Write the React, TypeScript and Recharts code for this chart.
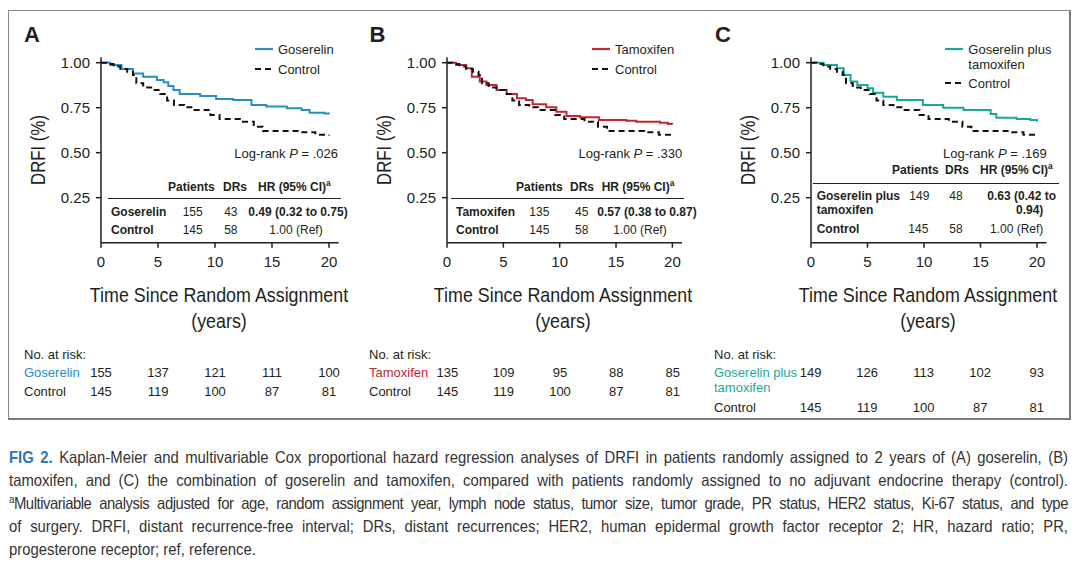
import React from 'react';
import { LineChart, Line, XAxis, YAxis } from 'recharts';

// Kaplan-Meier steps: [years, DRFI]
const controlKM = [
  [0, 1], [0.5, 0.993], [1.1, 0.979], [1.7, 0.965], [2.3, 0.95], [2.8, 0.932], [3.1, 0.886],
  [3.7, 0.862], [4.4, 0.848], [5.2, 0.826], [5.8, 0.79], [6.4, 0.765], [7.3, 0.752], [8.1, 0.737],
  [9.6, 0.71], [10.4, 0.687], [12.2, 0.672], [13.4, 0.644], [14.2, 0.62], [17.5, 0.613],
  [18.8, 0.6], [20, 0.595],
];
const goserelinKM = [
  [0, 1], [0.8, 0.987], [1.8, 0.965], [2.8, 0.94], [3.7, 0.922], [4.9, 0.904], [5.5, 0.891],
  [5.9, 0.87], [6.35, 0.848], [6.9, 0.826], [8.7, 0.815], [10.1, 0.798], [11.6, 0.793],
  [13.2, 0.765], [14.5, 0.756], [16.3, 0.747], [17.6, 0.737], [18.3, 0.722], [19.6, 0.718], [20, 0.713],
];
const tamoxifenKM = [
  [0, 1], [0.8, 0.987], [1.7, 0.969], [2.2, 0.922], [2.9, 0.895], [3.5, 0.876], [4.4, 0.848],
  [5.3, 0.826], [6.2, 0.802], [7.0, 0.793], [7.6, 0.769], [8.8, 0.752], [9.7, 0.728], [10.6, 0.704],
  [11.8, 0.697], [13.5, 0.682], [15.9, 0.678], [16.8, 0.672], [18.9, 0.667], [19.6, 0.66], [20, 0.658],
];
const comboKM = [
  [0, 1], [1.1, 0.987], [2.3, 0.969], [2.9, 0.932], [3.5, 0.895], [4.1, 0.876], [5.0, 0.858],
  [5.5, 0.833], [6.4, 0.811], [7.6, 0.793], [9.9, 0.765], [11.7, 0.75], [13.5, 0.737],
  [15.9, 0.715], [16.4, 0.694], [18.2, 0.687], [19.4, 0.682], [20, 0.672],
];

const xTicks = [0, 5, 10, 15, 20];
const yTicks = [0.25, 0.5, 0.75, 1.0];

const riskGoserelin = [155, 137, 121, 111, 100];
const riskTamoxifen = [135, 109, 95, 88, 85];
const riskCombo = [149, 126, 113, 102, 93];
const riskControl = [145, 119, 100, 87, 81];

const INK = '#231f20';
const BLUE = '#2a8dc5';
const RED = '#c1272d';
const TEAL = '#1aa89b';
const SANS = "'Liberation Sans', Arial, Helvetica, sans-serif";

const toRows = (km: number[][]) => km.map(([t, s]) => ({ t, s }));

type TxtProps = {
  x: number; y: number; size?: number; anchor?: 'start' | 'middle' | 'end';
  bold?: boolean; color?: string; squeeze?: number; children: React.ReactNode;
};

function Txt({ x, y, size = 13, anchor = 'start', bold, color = INK, squeeze, children }: TxtProps) {
  const style: React.CSSProperties = {
    position: 'absolute', top: y - size / 2, lineHeight: `${size}px`, fontSize: size,
    fontFamily: SANS, fontWeight: bold ? 700 : 400, color, whiteSpace: 'nowrap',
  };
  if (anchor === 'end') style.right = 1080 - x;
  else style.left = x;
  const parts: string[] = [];
  if (anchor === 'middle') parts.push('translateX(-50%)');
  if (squeeze) parts.push(`scaleX(${squeeze})`);
  if (parts.length) style.transform = parts.join(' ');
  return <div style={style}>{children}</div>;
}

function LegendKey({ x, y, color, dashed }: { x: number; y: number; color: string; dashed?: boolean }) {
  return (
    <svg style={{ position: 'absolute', left: x, top: y - 3 }} width={19} height={6}>
      <line x1={0} y1={3} x2={18} y2={3} stroke={color} strokeWidth={2.2} strokeDasharray={dashed ? '6 4' : undefined} />
    </svg>
  );
}

function Rule({ x1, x2, y }: { x1: number; x2: number; y: number }) {
  return <div style={{ position: 'absolute', left: x1, top: y, width: x2 - x1, borderTop: `1px solid ${INK}` }} />;
}

const Sup = () => <sup style={{ fontSize: '0.7em', lineHeight: 0 }}>a</sup>;

function KMPanel({ axisX, ppy, treat, color }: { axisX: number; ppy: number; treat: number[][]; color: string }) {
  const yAxisW = 81;
  const plotW = 20.85 * ppy;
  return (
    <div style={{ position: 'absolute', left: axisX - yAxisW, top: 40 }}>
      <LineChart width={yAxisW + plotW + 10} height={232.7} margin={{ top: 17.3, right: 10, bottom: 0, left: 0 }}>
        <XAxis type="number" dataKey="t" domain={[0, 20.85]} ticks={xTicks} allowDataOverflow
          height={30} tickSize={5} tickMargin={9} stroke={INK} strokeWidth={1.5}
          tick={{ fill: INK, fontSize: 15, fontFamily: SANS }} />
        <YAxis type="number" dataKey="s" domain={[0, 1.03]} ticks={yTicks} allowDataOverflow
          width={yAxisW} tickSize={5} tickMargin={6} stroke={INK} strokeWidth={1.5}
          tickFormatter={(v: number) => v.toFixed(2)}
          tick={{ fill: INK, fontSize: 15, fontFamily: SANS }} />
        <Line data={toRows(treat)} dataKey="s" type="stepAfter" stroke={color} strokeWidth={2}
          dot={false} isAnimationActive={false} />
        <Line data={toRows(controlKM)} dataKey="s" type="stepAfter" stroke="#111" strokeWidth={2}
          strokeDasharray="6 4" dot={false} isAnimationActive={false} />
      </LineChart>
    </div>
  );
}

function AxisTitles({ cx }: { cx: number }) {
  return (
    <>
      <Txt x={cx} y={294} size={21} anchor="middle" squeeze={0.85}>Time Since Random Assignment</Txt>
      <Txt x={cx} y={320} size={21} anchor="middle" squeeze={0.85}>(years)</Txt>
    </>
  );
}

function YTitle({ x, y }: { x: number; y: number }) {
  return (
    <div style={{
      position: 'absolute', left: x, top: y, transform: 'translate(-50%, -50%) rotate(-90deg) scaleX(0.8)',
      fontFamily: SANS, fontSize: 21, color: INK, whiteSpace: 'nowrap', lineHeight: '21px',
    }}>DRFI (%)</div>
  );
}

function RiskRow({ axisX, ppy, y, values }: { axisX: number; ppy: number; y: number; values: number[] }) {
  return (
    <>
      {values.map((v, i) => (
        <Txt key={i} x={axisX + xTicks[i] * ppy} y={y} anchor="middle">{v}</Txt>
      ))}
    </>
  );
}

const A = { axisX: 101, ppy: 11.4 };
const B = { axisX: 447.3, ppy: 11.27 };
const C = { axisX: 810.7, ppy: 11.3 };

const CAP_SCALE = 0.9;
const captionLine: React.CSSProperties = {
  position: 'absolute', left: 9, width: 1059 / CAP_SCALE, fontFamily: SANS, fontSize: 16.5, color: '#333',
  lineHeight: '20px', textAlign: 'justify', textAlignLast: 'justify',
  transform: `scaleX(${CAP_SCALE})`, transformOrigin: 'left top',
};

export default function App() {
  return (
    <div style={{ position: 'absolute', left: 0, top: 0, width: 1080, height: 569, background: '#fff', overflow: 'hidden' }}>
      <div style={{
        position: 'absolute', left: 8, top: 10, width: 1060, height: 407,
        borderLeft: '1.5px solid #8a8a8a', borderTop: '1.5px solid #8a8a8a',
        borderRight: '2.5px solid #7a7a7a', borderBottom: '2.5px solid #7a7a7a',
      }} />

      {/* Panel A */}
      <Txt x={24} y={35} size={22} bold>A</Txt>
      <KMPanel axisX={A.axisX} ppy={A.ppy} treat={goserelinKM} color={BLUE} />
      <YTitle x={37} y={150} />
      <AxisTitles cx={219} />
      <LegendKey x={255} y={49.3} color={BLUE} />
      <Txt x={278} y={49.3}>Goserelin</Txt>
      <LegendKey x={255} y={69.3} color="#111" dashed />
      <Txt x={278} y={69.3}>Control</Txt>
      <Txt x={338} y={153.3} anchor="end">Log-rank <i>P</i> = .026</Txt>
      <Txt x={168} y={186.7} size={12} bold>Patients</Txt>
      <Txt x={223} y={186.7} size={12} bold>DRs</Txt>
      <Txt x={258} y={186.7} size={12} bold>HR (95% CI)<Sup /></Txt>
      <Rule x1={108} x2={341} y={197.5} />
      <Txt x={111} y={211.7} size={12} bold>Goserelin</Txt>
      <Txt x={182.7} y={211.7} size={12}>155</Txt>
      <Txt x={237.5} y={211.7} size={12} anchor="end">43</Txt>
      <Txt x={248.3} y={211.7} size={12} bold>0.49 (0.32 to 0.75)</Txt>
      <Txt x={111} y={230} size={12} bold>Control</Txt>
      <Txt x={182.7} y={230} size={12}>145</Txt>
      <Txt x={237.5} y={230} size={12} anchor="end">58</Txt>
      <Txt x={269.3} y={230} size={12}>1.00 (Ref)</Txt>

      {/* Panel B */}
      <Txt x={369.5} y={35} size={22} bold>B</Txt>
      <KMPanel axisX={B.axisX} ppy={B.ppy} treat={tamoxifenKM} color={RED} />
      <YTitle x={383} y={150} />
      <AxisTitles cx={563} />
      <LegendKey x={591.7} y={49.3} color={RED} />
      <Txt x={615} y={49.3}>Tamoxifen</Txt>
      <LegendKey x={591.7} y={69.3} color="#111" dashed />
      <Txt x={615} y={69.3}>Control</Txt>
      <Txt x={682.3} y={153.3} anchor="end">Log-rank <i>P</i> = .330</Txt>
      <Txt x={516} y={186.7} size={12} bold>Patients</Txt>
      <Txt x={570} y={186.7} size={12} bold>DRs</Txt>
      <Txt x={601.7} y={186.7} size={12} bold>HR (95% CI)<Sup /></Txt>
      <Rule x1={451} x2={684} y={197.5} />
      <Txt x={456} y={211.7} size={12} bold>Tamoxifen</Txt>
      <Txt x={529.3} y={211.7} size={12}>135</Txt>
      <Txt x={588.3} y={211.7} size={12} anchor="end">45</Txt>
      <Txt x={597.3} y={211.7} size={12} bold>0.57 (0.38 to 0.87)</Txt>
      <Txt x={456} y={230} size={12} bold>Control</Txt>
      <Txt x={529.3} y={230} size={12}>145</Txt>
      <Txt x={588.3} y={230} size={12} anchor="end">58</Txt>
      <Txt x={613.3} y={230} size={12}>1.00 (Ref)</Txt>

      {/* Panel C */}
      <Txt x={715} y={35} size={22} bold>C</Txt>
      <KMPanel axisX={C.axisX} ppy={C.ppy} treat={comboKM} color={TEAL} />
      <YTitle x={747} y={150} />
      <AxisTitles cx={928} />
      <LegendKey x={945} y={49.3} color={TEAL} />
      <Txt x={968.3} y={49.3}>Goserelin plus</Txt>
      <Txt x={968.3} y={64}>tamoxifen</Txt>
      <LegendKey x={945} y={83.3} color="#111" dashed />
      <Txt x={968.3} y={83.3}>Control</Txt>
      <Txt x={1046.7} y={153.3} anchor="end">Log-rank <i>P</i> = .169</Txt>
      <Txt x={892} y={170} size={12} bold>Patients</Txt>
      <Txt x={945} y={170} size={12} bold>DRs</Txt>
      <Txt x={980} y={170} size={12} bold>HR (95% CI)<Sup /></Txt>
      <Rule x1={813} x2={1059} y={183} />
      <Txt x={816.7} y={195.7} size={12} bold>Goserelin plus</Txt>
      <Txt x={816.7} y={210} size={12} bold>tamoxifen</Txt>
      <Txt x={909.3} y={195.7} size={12}>149</Txt>
      <Txt x={962.7} y={195.7} size={12} anchor="end">48</Txt>
      <Txt x={1056} y={195.7} size={12} bold anchor="end">0.63 (0.42 to</Txt>
      <Txt x={1043.3} y={210} size={12} bold anchor="end">0.94)</Txt>
      <Txt x={816.7} y={229.3} size={12} bold>Control</Txt>
      <Txt x={908.3} y={229.3} size={12}>145</Txt>
      <Txt x={962.7} y={229.3} size={12} anchor="end">58</Txt>
      <Txt x={1043.3} y={229.3} size={12} anchor="end">1.00 (Ref)</Txt>

      {/* Numbers at risk */}
      <Txt x={24} y={354}>No. at risk:</Txt>
      <Txt x={24} y={372.3} color={BLUE}>Goserelin</Txt>
      <Txt x={24} y={391.7}>Control</Txt>
      <RiskRow {...A} y={372.3} values={riskGoserelin} />
      <RiskRow {...A} y={391.7} values={riskControl} />

      <Txt x={369} y={354}>No. at risk:</Txt>
      <Txt x={369} y={372.3} color={RED}>Tamoxifen</Txt>
      <Txt x={369} y={391.7}>Control</Txt>
      <RiskRow {...B} y={372.3} values={riskTamoxifen} />
      <RiskRow {...B} y={391.7} values={riskControl} />

      <Txt x={714} y={354}>No. at risk:</Txt>
      <Txt x={714} y={372.3} color={TEAL}>Goserelin plus</Txt>
      <Txt x={714} y={387} color={TEAL}>tamoxifen</Txt>
      <Txt x={714} y={407}>Control</Txt>
      <RiskRow {...C} y={372.3} values={riskCombo} />
      <RiskRow {...C} y={407} values={riskControl} />

      {/* Caption */}
      <div style={{ ...captionLine, top: 447 }}>
        <b style={{ color: '#2a7ab8' }}>FIG 2.</b> Kaplan-Meier and multivariable Cox proportional hazard regression analyses of DRFI in patients randomly assigned to 2 years of (A) goserelin, (B)
      </div>
      <div style={{ ...captionLine, top: 470 }}>
        tamoxifen, and (C) the combination of goserelin and tamoxifen, compared with patients randomly assigned to no adjuvant endocrine therapy (control).
      </div>
      <div style={{ ...captionLine, top: 493, letterSpacing: -0.5 }}>
        <sup style={{ fontSize: '0.65em', lineHeight: 0 }}>a</sup>Multivariable analysis adjusted for age, random assignment year, lymph node status, tumor size, tumor grade, PR status, HER2 status, Ki-67 status, and type
      </div>
      <div style={{ ...captionLine, top: 516 }}>
        of surgery. DRFI, distant recurrence-free interval; DRs, distant recurrences; HER2, human epidermal growth factor receptor 2; HR, hazard ratio; PR,
      </div>
      <div style={{ ...captionLine, top: 539, textAlignLast: 'left' }}>
        progesterone receptor; ref, reference.
      </div>
    </div>
  );
}
